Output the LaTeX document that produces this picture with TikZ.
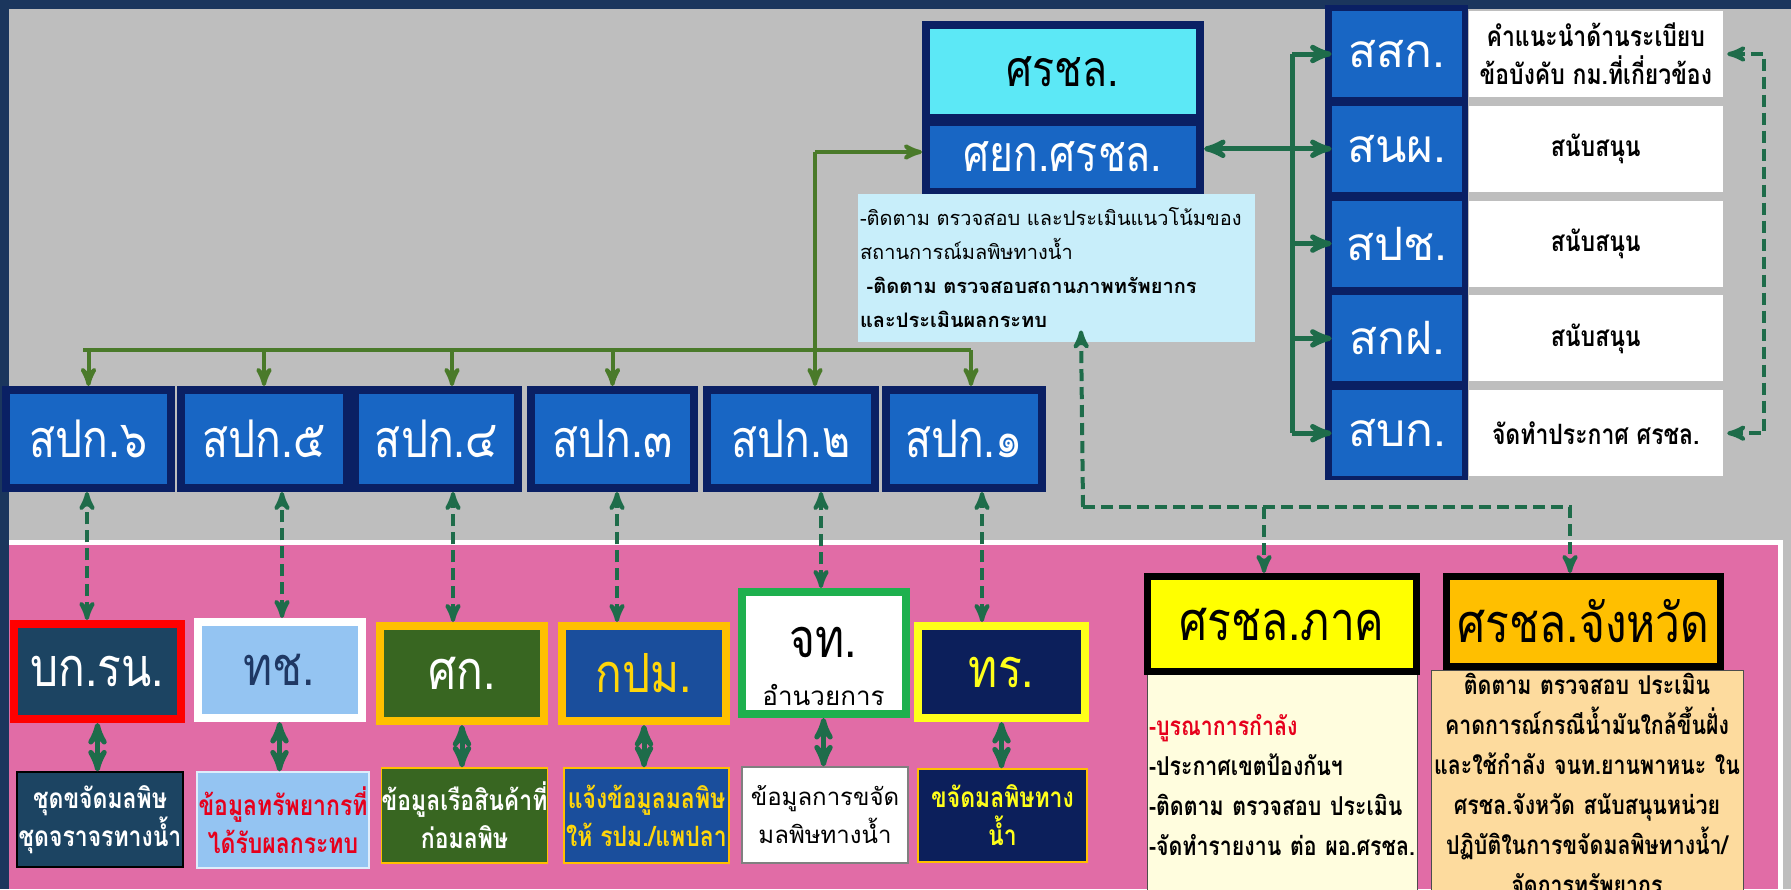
\documentclass[tikz,border=0pt]{standalone}
\usepackage{fontspec}
\newfontfamily\thaifont[Script=Thai]{Loma}
\newfontfamily\thaicond[Script=Thai,FakeStretch=0.82]{Loma}
\usetikzlibrary{arrows,positioning}
\tikzset{>=latex}
\definecolor{navyback}{RGB}{27,54,93}
\definecolor{panelgray}{RGB}{190,190,190}
\definecolor{panelpink}{RGB}{225,108,166}
\definecolor{framenavy}{RGB}{10,32,100}
\definecolor{unitblue}{RGB}{24,102,196}
\definecolor{headcyan}{RGB}{92,232,246}
\definecolor{infocyan}{RGB}{200,238,250}
\definecolor{flowolive}{RGB}{74,122,42}
\definecolor{linkteal}{RGB}{30,108,74}
\definecolor{rnteal}{RGB}{28,68,98}
\definecolor{tchblue}{RGB}{148,196,242}
\definecolor{tchtext}{RGB}{31,56,100}
\definecolor{gold}{RGB}{255,192,0}
\definecolor{skgreen}{RGB}{56,102,33}
\definecolor{kpblue}{RGB}{26,78,156}
\definecolor{kpyellow}{RGB}{255,214,10}
\definecolor{jtgreen}{RGB}{30,176,78}
\definecolor{trnavy}{RGB}{12,31,91}
\definecolor{tryellow}{RGB}{255,255,26}
\definecolor{alertred}{RGB}{230,0,28}
\definecolor{headyellow}{RGB}{255,255,0}
\definecolor{headorange}{RGB}{255,191,0}
\definecolor{cream}{RGB}{255,253,222}
\definecolor{peach}{RGB}{253,219,158}

\begin{document}
\begin{tikzpicture}[x=0.5pt, y=-0.5pt, >=stealth',
    frame/.style={draw, line width=4pt, inner sep=0pt, align=center},
    unit/.style={frame, draw=framenavy, fill=unitblue, text=white, minimum height=49pt, font=\thaicond\fontsize{26}{30}\selectfont},
    agency/.style={frame, minimum width=82pt, minimum height=47.5pt, font=\thaicond\fontsize{27}{30}\selectfont},
    duty/.style={draw, line width=0.6pt, inner sep=0pt, align=center, minimum width=83pt, minimum height=47.5pt, font=\thaicond\bfseries\fontsize{14}{19}\selectfont},
    branch/.style={fill=unitblue, text=white, inner sep=0pt, minimum width=65pt, minimum height=43pt, font=\thaifont\fontsize{23}{26}\selectfont},
    task/.style={fill=white, inner sep=0pt, minimum width=127pt, minimum height=43pt, align=center, font=\thaicond\bfseries\fontsize{14}{19}\selectfont},
    area/.style={frame, line width=3.5pt, draw=black, font=\thaicond\fontsize{27}{30}\selectfont},
    flow/.style={->, flowolive, line width=2pt},
    link/.style={->, linkteal, line width=2.5pt},
    dlink/.style={->, linkteal, line width=2pt, dash pattern=on 6pt off 3pt}]

    % background panels
    \fill[navyback] (0,0) rectangle (1791,889);
    \useasboundingbox (0,0) rectangle (1791,889);
    \fill[panelgray] (9,9) rectangle (1791,889);
    \fill[panelpink] (9,543) rectangle (1780,889);
    \draw[white, line width=2.5pt] (9,542.5) -- (1780,542.5) -- (1780,889);

    % centre
    \node[frame, draw=framenavy, fill=headcyan, minimum width=137pt, minimum height=46.5pt, font=\thaicond\fontsize{25}{28}\selectfont] (rc) at (1063,71.5) {ศรชล.};
    \node[frame, draw=framenavy, fill=unitblue, text=white, minimum width=137pt, minimum height=35pt, font=\thaicond\fontsize{25}{28}\selectfont] (sy) at (1063,157) {ศยก.ศรชล.};
    \node[fill=infocyan, inner xsep=1pt, inner ysep=0pt, text width=196.5pt, minimum height=74pt, align=left, font=\thaifont\fontsize{10}{17}\selectfont] (info) at (1056.5,268)
        {-ติดตาม ตรวจสอบ และประเมินแนวโน้มของ\\สถานการณ์มลพิษทางน้ำ\\\textbf{\ -ติดตาม ตรวจสอบสถานภาพทรัพยากร}\\\textbf{และประเมินผลกระทบ}};

    % right column
    \node[fill=framenavy, inner sep=0pt, minimum width=71.5pt, minimum height=237.5pt] (col) at (1396.5,242.5) {};
    \node[branch] (r1) at (1397,54) {สสก.};
    \node[branch, below=4pt of r1] (r2) {สนผ.};
    \node[branch, below=4pt of r2] (r3) {สปช.};
    \node[branch, below=4pt of r3] (r4) {สกฝ.};
    \node[branch, below=4pt of r4] (r5) {สบก.};
    \node[task, right=3pt of r1] (w1) {คำแนะนำด้านระเบียบ\\ข้อบังคับ กม.ที่เกี่ยวข้อง};
    \node[task, right=3pt of r2] (w2) {สนับสนุน};
    \node[task, right=3pt of r3] (w3) {สนับสนุน};
    \node[task, right=3pt of r4] (w4) {สนับสนุน};
    \node[task, right=3pt of r5] (w5) {จัดทำประกาศ ศรชล.};

    \coordinate (spine) at (1292,0);
    \draw[link, -] (spine |- r1) -- (spine |- r5);
    \foreach \r in {r1,r3,r4,r5}
        \draw[link] (spine |- \r) -- (\r.west);
    \draw[link, <->] (sy.east |- r2) -- (r2.west);
    \draw[dlink, <->, shorten <=2pt, shorten >=2pt] (w1.east) -- ++(41,0) |- (w5.east);

    % regional units
    \node[unit, minimum width=82.5pt] (s6) at (88.5,439) {สปก.๖};
    \node[unit, minimum width=83pt] (s5) at (264,439) {สปก.๕};
    \node[unit, minimum width=81.5pt] (s4) at (436.5,439) {สปก.๔};
    \node[unit, minimum width=81.5pt] (s3) at (612.5,439) {สปก.๓};
    \node[unit, minimum width=84pt] (s2) at (791,439) {สปก.๒};
    \node[unit, minimum width=78pt] (s1) at (964,439) {สปก.๑};

    \coordinate (knee) at (815,152);
    \coordinate (bus) at (83,350);
    \draw[flow] (knee) -- (knee -| sy.west);
    \draw[flow] (knee) -- (knee |- s2.north);
    \draw[flow, -] (bus) -- ([xshift=3.5pt]s1.north |- bus);
    \foreach \u/\dx in {s6/0,s5/0,s4/7.75,s3/0,s1/3.5}
        \draw[flow] ([xshift=\dx pt]\u.north |- bus) -- ([xshift=\dx pt]\u.north);

    % agencies
    \node[agency, draw=red, fill=rnteal, text=white, minimum width=83.5pt] (bk) at (97.5,671.5) {บก.รน.};
    \node[agency, draw=white, fill=tchblue, text=tchtext, minimum height=48pt] (tc) at (279.5,670) {ทช.};
    \node[agency, draw=gold, fill=skgreen, text=white] (sk) at (462,673.5) {ศก.};
    \node[agency, draw=gold, fill=kpblue, text=kpyellow] (kp) at (644,673.5) {กปม.};
    \node[agency, draw=jtgreen, fill=white, minimum height=61pt] (jt) at (823.5,653) {};
    \node[align=center, inner sep=0pt, font=\thaicond\fontsize{27}{30}\selectfont] (jtname) at (823.5,666) {จท.\\[-6pt]{\thaifont\fontsize{13}{15}\selectfont อำนวยการ}};
    \node[agency, draw=tryellow, fill=trnavy, text=tryellow, minimum width=83.5pt, minimum height=46pt] (tr) at (1001.5,672) {ทร.};

    \foreach \u/\a/\dx in {s6/bk/-5.25,s5/tc/1.25,s4/sk/-4.5,s3/kp/-13.5,s2/jt/-1.25,s1/tr/-9.75}
        \draw[dlink, <->] ([xshift=\dx pt]\a.north) -- ([xshift=\dx pt]\a.north |- \u.south);

    \node[duty, fill=rnteal, text=white] (d1) at (100,819.5) {ชุดขจัดมลพิษ\\ชุดจราจรทางน้ำ};
    \node[duty, fill=tchblue, draw=white!70!tchblue, text=alertred, minimum width=86pt, minimum height=48pt] (d2) at (283,820) {ข้อมูลทรัพยากรที่\\ได้รับผลกระทบ};
    \node[duty, fill=skgreen, draw=gold, text=white, minimum width=82.5pt] (d3) at (464.5,815.5) {ข้อมูลเรือสินค้าที่\\ก่อมลพิษ};
    \node[duty, fill=kpblue, draw=gold, text=kpyellow, minimum width=82.5pt] (d4) at (646.5,815.5) {แจ้งข้อมูลมลพิษ\\ให้ รปม./แพปลา};
    \node[duty, fill=white, draw=gray, text=black, minimum height=48pt, font=\thaifont\fontsize{12}{19}\selectfont] (d5) at (825,815) {ข้อมูลการขจัด\\มลพิษทางน้ำ};
    \node[duty, fill=trnavy, draw=gold, text=tryellow, minimum width=84.5pt, minimum height=46.5pt] (d6) at (1002.5,815.5) {ขจัดมลพิษทาง\\น้ำ};

    \foreach \a/\d in {bk/d1,tc/d2,sk/d3,kp/d4,jt/d5,tr/d6}
        \draw[link, <->] (\a.south) -- (\a.south |- \d.north);

    % area centres
    \node[draw=black!70, line width=0.5pt, fill=cream, anchor=north, minimum height=111pt, inner xsep=1pt, text width=133pt, align=left, font=\thaicond\bfseries\fontsize{13}{20}\selectfont] (rtask) at (1282,673)
        {{\color{alertred}-บูรณาการกำลัง}\\-ประกาศเขตป้องกันฯ\\-ติดตาม ตรวจสอบ ประเมิน\\-จัดทำรายงาน ต่อ ผอ.ศรชล.};
    \node[area, fill=headyellow, minimum width=134.5pt, minimum height=47.5pt] (rh) at (1282,624) {ศรชล.ภาค};
    \node[draw=black!70, line width=0.5pt, fill=peach, anchor=north, inner xsep=1pt, inner ysep=1.5pt, text width=154pt, align=center, font=\thaicond\bfseries\fontsize{13}{20}\selectfont] (ptask) at (1587,670)
        {ติดตาม ตรวจสอบ ประเมิน\\คาดการณ์กรณีน้ำมันใกล้ขึ้นฝั่ง\\และใช้กำลัง จนท.ยานพาหนะ ใน\\ศรชล.จังหวัด สนับสนุนหน่วย\\ปฏิบัติในการขจัดมลพิษทางน้ำ/\\จัดการทรัพยากร};
    \node[area, fill=headorange, minimum width=137pt, minimum height=45pt] (rp) at (1583.5,621.5) {ศรชล.จังหวัด};

    \coordinate (split) at (1083,507);
    \draw[dlink] (split) -- ([xshift=12.25pt,yshift=6pt]info.south);
    \draw[dlink] (split) -| ([xshift=-6.75pt]rp.north);
    \draw[dlink] ([xshift=-9pt]rh.north |- split) -- ([xshift=-9pt]rh.north);
\end{tikzpicture}
\end{document}
